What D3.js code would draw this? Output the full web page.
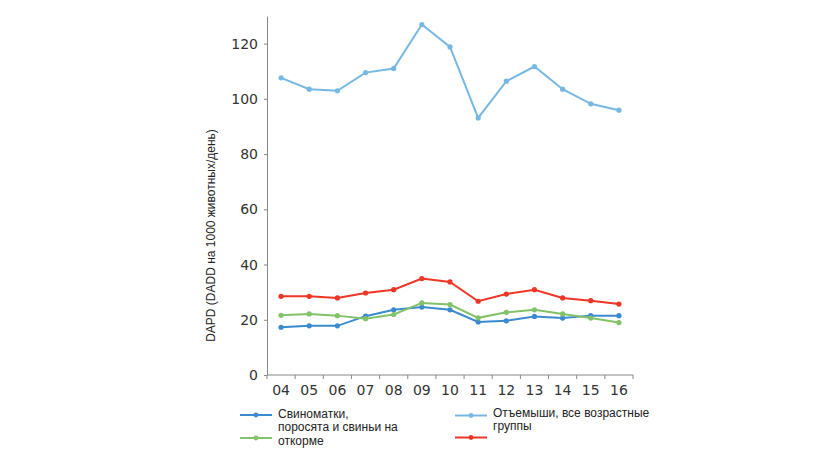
<!DOCTYPE html>
<html>
<head>
<meta charset="utf-8">
<script src="https://cdn.jsdelivr.net/npm/d3@7"></script>
<style>
  body { margin: 0; background: #fff; }
  svg { display: block; }
</style>
</head>
<body>
<svg id="chart"></svg>
<script>
const WIDTH = 820;
const HEIGHT = 461;
const MARGIN = { top: 16, right: 187, bottom: 86, left: 267 };

const years = ["04", "05", "06", "07", "08", "09", "10", "11", "12", "13", "14", "15", "16"];
const sows = [17.3, 17.8, 17.8, 21.3, 23.6, 24.6, 23.6, 19.2, 19.6, 21.2, 20.6, 21.5, 21.5];
const weaners = [107.6, 103.5, 102.9, 109.5, 111, 126.9, 118.8, 93.1, 106.4, 111.7, 103.5, 98.2, 95.9];
const fattening = [21.6, 22.1, 21.5, 20.4, 21.9, 26.1, 25.5, 20.7, 22.7, 23.6, 22.1, 20.6, 19.0];
const total = [28.5, 28.5, 27.9, 29.7, 30.9, 34.9, 33.7, 26.7, 29.3, 30.9, 27.9, 26.9, 25.7];
const yTicks = [0, 20, 40, 60, 80, 100, 120];

const series = [
  { name: "sows", values: sows, color: "#3a8ad0" },
  { name: "weaners", values: weaners, color: "#77b8e2" },
  { name: "fattening", values: fattening, color: "#82c269" },
  { name: "total", values: total, color: "#ee3526" }
];

const svg = d3.select("#chart").attr("width", WIDTH).attr("height", HEIGHT);

const xScale = d3
  .scaleBand()
  .domain(years)
  .range([MARGIN.left, WIDTH - MARGIN.right])
  .padding(0);

const yScale = d3
  .scaleLinear()
  .domain([0, 130])
  .range([HEIGHT - MARGIN.bottom, MARGIN.top]);

const xCenter = d => xScale(d) + xScale.bandwidth() / 2;

// x axis: ticks sit on the band boundaries, labels in the middle
const xAxisG = svg
  .append("g")
  .attr("transform", `translate(0,${HEIGHT - MARGIN.bottom})`);

xAxisG
  .append("line")
  .attr("x1", MARGIN.left)
  .attr("x2", WIDTH - MARGIN.right)
  .attr("stroke", "#888")
  .attr("stroke-width", 1);

xAxisG
  .selectAll("line.tick")
  .data(years.concat(["end"]))
  .join("line")
  .attr("class", "tick")
  .attr("x1", (d, i) => (i < years.length ? xScale(d) : WIDTH - MARGIN.right))
  .attr("x2", (d, i) => (i < years.length ? xScale(d) : WIDTH - MARGIN.right))
  .attr("y1", 0)
  .attr("y2", 4)
  .attr("stroke", "#888");

xAxisG
  .selectAll("text")
  .data(years)
  .join("text")
  .attr("x", xCenter)
  .attr("y", 20)
  .attr("text-anchor", "middle")
  .attr("font-family", "DejaVu Sans, sans-serif")
  .attr("font-size", 14)
  .attr("fill", "#333")
  .text(d => d);

// y axis
const yAxis = d3.axisLeft(yScale).tickValues(yTicks).tickSize(3).tickSizeOuter(0).tickPadding(6);
const yAxisG = svg
  .append("g")
  .attr("transform", `translate(${MARGIN.left},0)`)
  .call(yAxis);

yAxisG.select(".domain").attr("stroke", "#888");
yAxisG.selectAll(".tick line").attr("stroke", "#888");
yAxisG
  .selectAll(".tick text")
  .attr("font-family", "DejaVu Sans, sans-serif")
  .attr("font-size", 14)
  .attr("fill", "#333");

svg
  .append("text")
  .attr("transform", `translate(215,${(MARGIN.top + HEIGHT - MARGIN.bottom) / 2 + 40}) rotate(-90)`)
  .attr("text-anchor", "middle")
  .attr("font-family", "Liberation Sans, Arial, sans-serif")
  .attr("font-size", 12)
  .attr("fill", "#222")
  .text("DAPD (DADD на 1000 животных/день)");

// lines + markers
const line = d3
  .line()
  .x((v, i) => xCenter(years[i]))
  .y(v => yScale(v));

series.forEach(s => {
  svg
    .append("path")
    .datum(s.values)
    .attr("fill", "none")
    .attr("stroke", s.color)
    .attr("stroke-width", 2)
    .attr("d", line);

  svg
    .append("g")
    .selectAll("circle")
    .data(s.values)
    .join("circle")
    .attr("cx", (v, i) => xCenter(years[i]))
    .attr("cy", v => yScale(v))
    .attr("r", 2.6)
    .attr("fill", s.color);
});

// legend (symbol row and first text baseline given separately)
const legendItems = [
  { color: series[0].color, x: 240, y: 415, textY: 418, lines: ["Свиноматки,", "поросята и свиньи на"] },
  { color: series[2].color, x: 240, y: 438, textY: 445, lines: ["откорме"] },
  { color: series[1].color, x: 455, y: 415.5, textY: 416.5, lines: ["Отъемыши, все возрастные", "группы"] },
  { color: series[3].color, x: 455, y: 437.5, textY: 441, lines: [] }
];

const legend = svg
  .append("g")
  .selectAll("g")
  .data(legendItems)
  .join("g")
  .attr("transform", d => `translate(${d.x},0)`);

legend
  .append("line")
  .attr("x1", 0)
  .attr("x2", 32)
  .attr("y1", d => d.y)
  .attr("y2", d => d.y)
  .attr("stroke", d => d.color)
  .attr("stroke-width", 2);

legend
  .append("circle")
  .attr("cx", 16)
  .attr("cy", d => d.y)
  .attr("r", 2.4)
  .attr("fill", d => d.color);

legend
  .selectAll("text")
  .data(d => d.lines.map((t, i) => ({ t, y: d.textY + i * 13 })))
  .join("text")
  .attr("x", 38)
  .attr("y", d => d.y)
  .attr("font-family", "Liberation Sans, Arial, sans-serif")
  .attr("font-size", 12)
  .attr("fill", "#222")
  .text(d => d.t);
</script>
</body>
</html>
